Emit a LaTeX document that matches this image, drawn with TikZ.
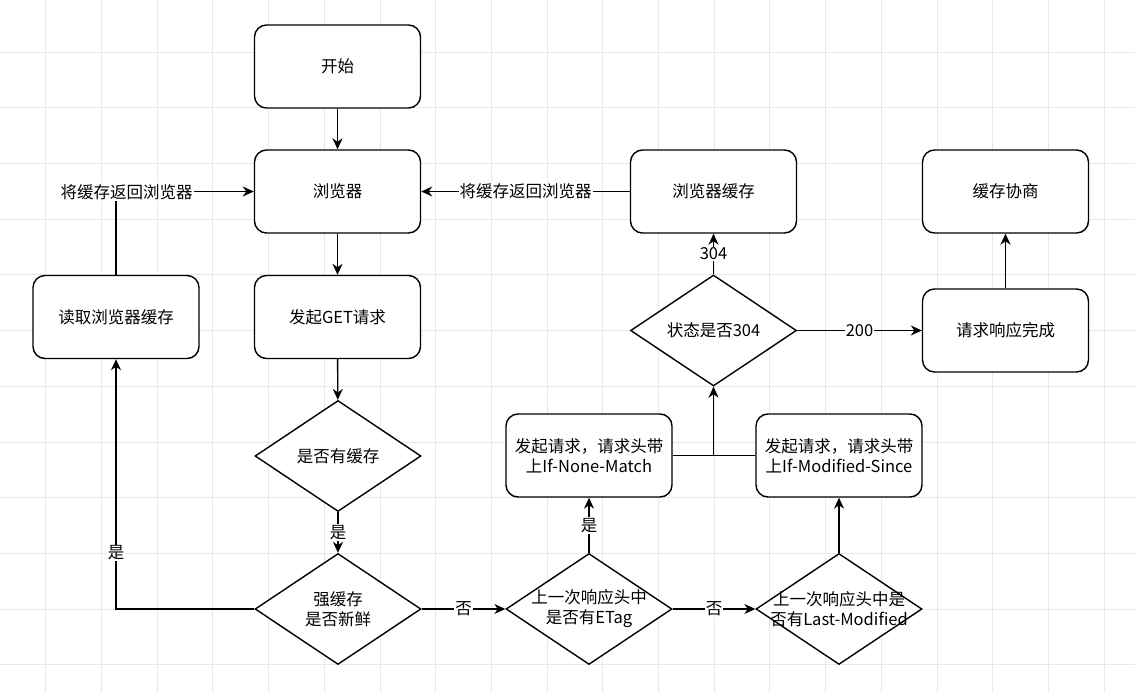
\documentclass[tikz,border=0pt]{standalone}
\usepackage{fontspec}
\setmainfont{Noto Sans CJK SC}
\usetikzlibrary{shapes.geometric,arrows.meta}
\begin{document}
\begin{tikzpicture}[x=1pt,y=-1pt,
  every node/.style={font=\fontsize{16.5}{20}\selectfont},
  box/.style={draw, line width=1.4pt, fill=white, rectangle, rounded corners=12pt,
    minimum width=166pt, minimum height=83pt, align=center, inner sep=0pt},
  dia/.style={draw, line width=1.4pt, fill=white, diamond, inner sep=0pt,
    minimum width=166pt, minimum height=111pt},
  txt/.style={align=center, inner sep=0pt},
  conn/.style={line width=1.4pt, -{Stealth[length=11pt,width=10pt,inset=3.5pt]}},
  plain/.style={line width=1.4pt},
  lbl/.style={fill=white, inner sep=1pt}
]
\useasboundingbox (0,0) rectangle (1135,693);
\fill[white] (0,0) rectangle (1135,693);
% grid
\foreach \i in {0,...,19} {
  \draw[black!9, line width=0.8pt] ({45.7+55.7*\i},0) -- ({45.7+55.7*\i},693);
}
\foreach \j in {0,...,11} {
  \draw[black!9, line width=0.8pt] (0,{52+55.7*\j}) -- (1135,{52+55.7*\j});
}

% nodes
\node[box] (start) at (337.5,66.5) {开始};
\node[box] (browser) at (337.5,191.5) {浏览器};
\node[box] (get) at (337.5,317) {发起GET请求};
\node[dia, label={[txt]center:是否有缓存}] (hascache) at (338,456) {};
\node[dia, label={[txt]center:强缓存\\是否新鲜}] (fresh) at (338,609) {};
\node[box] (read) at (116,317) {读取浏览器缓存};
\node[box] (bcache) at (713.5,191.5) {浏览器缓存};
\node[dia, label={[txt]center:状态是否304}] (s304) at (713.5,330.5) {};
\node[box] (negot) at (1005.5,191.5) {缓存协商};
\node[box] (done) at (1005.5,330.5) {请求响应完成};
\node[box] (inm) at (589,455.5) {发起请求，请求头带\\上If-None-Match};
\node[box] (ims) at (839,455.5) {发起请求，请求头带\\上If-Modified-Since};
\node[dia, label={[txt]center:上一次响应头中\\是否有ETag}] (etag) at (589,609) {};
\node[dia, label={[txt]center:上一次响应头中是\\否有Last-Modified}] (lm) at (839,609) {};
\coordinate (junc) at (713.5,455.5);

% connectors
\draw[conn] (start) -- (browser);
\draw[conn] (browser) -- (get);
\draw[conn] (get) -- (hascache);
\draw[conn] (hascache) -- node[lbl] {是} (fresh);
\draw[conn] (fresh.west) -| (read.south);
\node[lbl] (lblyes) at (116,553) {是};
\draw[conn] (read.north) |- (browser.west);
\node[lbl] (lblret1) at (126.5,192) {将缓存返回浏览器};
\draw[conn] (bcache.west) -- node[lbl] {将缓存返回浏览器} (browser.east);
\draw[conn] (s304.north) -- node[lbl] {304} (bcache.south);
\draw[conn] (s304.east) -- node[lbl] {200} (done.west);
\draw[conn] (done.north) -- (negot.south);
\draw[plain] (inm.east) -- (junc);
\draw[plain] (ims.west) -- (junc);
\draw[conn] (junc) -- (s304.south);
\draw[conn] (fresh.east) -- node[lbl] {否} (etag.west);
\draw[conn] (etag.east) -- node[lbl] {否} (lm.west);
\draw[conn] (etag.north) -- node[lbl] {是} (inm.south);
\draw[conn] (lm.north) -- (ims.south);
\end{tikzpicture}
\end{document}
